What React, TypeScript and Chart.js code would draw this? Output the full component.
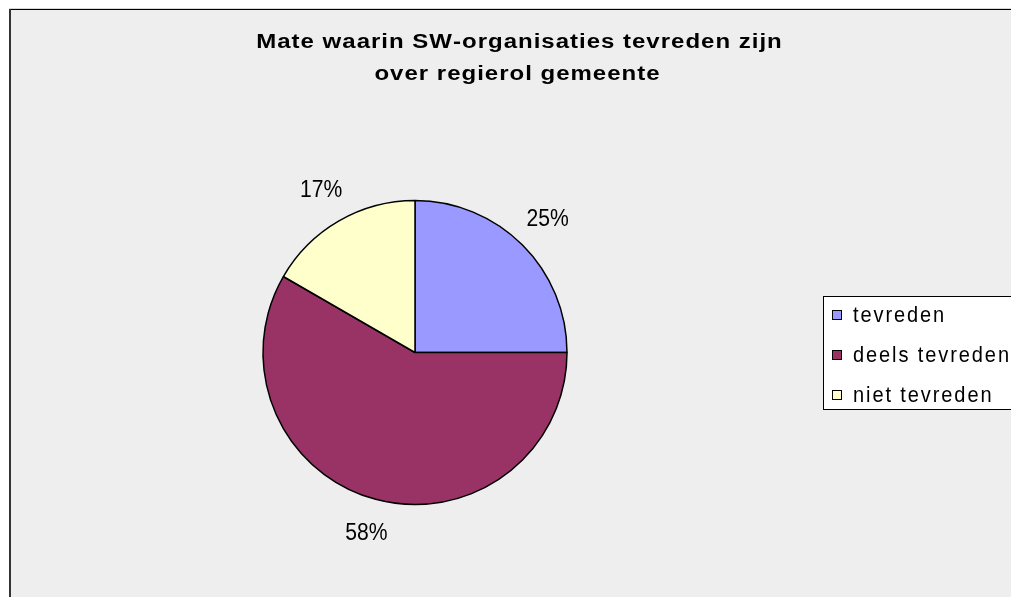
import React, { useEffect, useRef } from "react";
import { Chart, registerables } from "chart.js";

Chart.register(...registerables);

const categories = ["tevreden", "deels tevreden", "niet tevreden"];
const counts = [3, 7, 2];
const sliceColors = ["#9999FF", "#993366", "#FFFFCC"];
const titleLines = ["Mate waarin SW-organisaties tevreden zijn", "over regierol gemeente"];

const FONT = '"Liberation Sans", Arial, Helvetica, sans-serif';

function drawSpaced(
  ctx: CanvasRenderingContext2D,
  text: string,
  x0: number,
  y: number,
  sp: number,
  sx: number,
  align: "center" | "left"
) {
  const chars = Array.from(text);
  const widths = chars.map((c) => ctx.measureText(c).width * sx);
  const total = widths.reduce((a, b) => a + b, 0) + sp * (chars.length - 1);
  let x = align === "center" ? x0 - total / 2 : x0;
  ctx.textAlign = "left";
  chars.forEach((c, i) => {
    ctx.save();
    ctx.translate(x, y);
    ctx.scale(sx, 1);
    ctx.fillText(c, 0, 0);
    ctx.restore();
    x += widths[i] + sp;
  });
}

const framePlugin = {
  id: "framePlugin",
  beforeDraw(chart: any) {
    const ctx = chart.ctx as CanvasRenderingContext2D;
    const W = chart.width;
    const H = chart.height;
    ctx.save();
    ctx.fillStyle = "#ffffff";
    ctx.fillRect(0, 0, W, H);
    ctx.fillStyle = "#eeeeee";
    ctx.fillRect(10, 9, W - 10, H - 9);
    ctx.fillStyle = "#d8d8d8";
    ctx.fillRect(9, 8, W - 9, 1);
    ctx.fillStyle = "#000000";
    ctx.fillRect(9, 9, W - 9, 1);
    ctx.fillStyle = "#333333";
    ctx.fillRect(9, 9, 2, H - 9);
    ctx.restore();
  },
  afterDraw(chart: any) {
    const ctx = chart.ctx as CanvasRenderingContext2D;
    const meta = chart.getDatasetMeta(0);
    const data = chart.data.datasets[0].data as number[];
    const total = data.reduce((a: number, b: number) => a + b, 0);
    ctx.save();

    // Title
    ctx.fillStyle = "#000000";
    ctx.font = `bold 20px ${FONT}`;
    ctx.textBaseline = "alphabetic";
    drawSpaced(ctx, titleLines[0], 519, 48, 1.0, 1.2, "center");
    drawSpaced(ctx, titleLines[1], 517, 80, 1.0, 1.2, "center");

    // Percentage labels outside slices
    ctx.font = `24px ${FONT}`;
    ctx.textBaseline = "middle";
    meta.data.forEach((arc: any, i: number) => {
      const p = arc.getProps(["x", "y", "startAngle", "endAngle", "outerRadius"], true);
      const mid = (p.startAngle + p.endAngle) / 2;
      const dist = p.outerRadius * 1.235;
      const x = p.x + Math.cos(mid) * dist;
      const y = p.y + Math.sin(mid) * dist;
      const pct = Math.round((data[i] / total) * 100) + "%";
      drawSpaced(ctx, pct, x, y, 0, 0.88, "center");
    });

    // Legend
    const lx = 823;
    const ly = 296;
    ctx.fillStyle = "#ffffff";
    ctx.fillRect(lx, ly, 300, 113);
    ctx.strokeStyle = "#000000";
    ctx.lineWidth = 1;
    ctx.strokeRect(lx + 0.5, ly + 0.5, 300, 113);
    ctx.font = `22px ${FONT}`;
    ctx.textBaseline = "alphabetic";
    const labels = chart.data.labels as string[];
    const bg = chart.data.datasets[0].backgroundColor as string[];
    labels.forEach((lab, i) => {
      const cy = 315 + i * 40;
      ctx.fillStyle = bg[i];
      ctx.fillRect(832, cy - 4.5, 9, 9);
      ctx.strokeStyle = "#000000";
      ctx.strokeRect(832.5, cy - 4.5, 9, 9);
      ctx.fillStyle = "#000000";
      drawSpaced(ctx, lab, 853, cy + 7, 1.9, 0.91, "left");
    });
    ctx.restore();
  },
};

export default function App() {
  const ref = useRef<HTMLCanvasElement | null>(null);
  useEffect(() => {
    if (!ref.current) return;
    const chart = new Chart(ref.current, {
      type: "pie",
      data: {
        labels: categories,
        datasets: [
          {
            data: counts,
            backgroundColor: sliceColors,
            borderColor: "#000000",
            borderWidth: 1.5,
            radius: 152,
          } as any,
        ],
      },
      options: {
        responsive: false,
        animation: false,
        events: [],
        layout: { padding: { left: 0, right: 181, top: 108, bottom: 0 } },
        plugins: {
          legend: { display: false },
          title: { display: false },
          tooltip: { enabled: false },
        },
      } as any,
      plugins: [framePlugin],
    });
    return () => chart.destroy();
  }, []);
  return (
    <div style={{ position: "fixed", left: 0, top: 0, width: 1011, height: 597, overflow: "hidden", background: "#fff" }}>
      <canvas ref={ref} width={1011} height={597} style={{ display: "block" }} />
    </div>
  );
}
